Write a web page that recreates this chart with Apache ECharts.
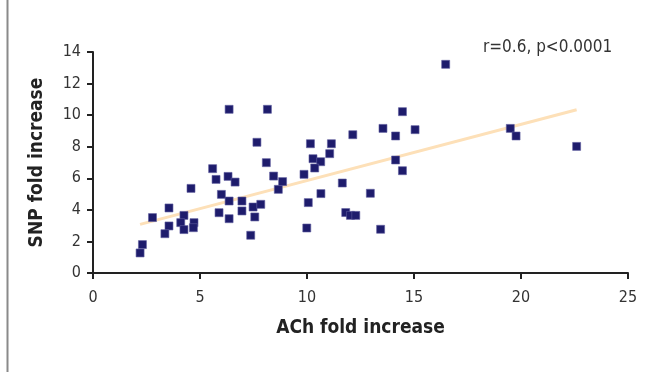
<!DOCTYPE html>
<html>
<head>
<meta charset="utf-8">
<script src="https://cdn.jsdelivr.net/npm/echarts@6/dist/echarts.min.js"></script>
<style>
  html, body { margin: 0; padding: 0; background: #fff; }
  #chart { width: 661px; height: 372px; }
</style>
</head>
<body>
<div id="chart"></div>
<script>
// ACh vs SNP fold increase
const achValues = [
  6.36, 8.15, 7.66, 8.10, 8.44, 8.66, 5.59, 5.75, 6.31, 6.64, 4.58, 6.00, 6.36, 6.96, 6.96,
  5.89, 6.36, 7.48, 7.84, 7.56, 7.37, 3.55, 2.78, 4.25, 4.10, 3.55, 4.25, 4.72, 4.69, 3.36,
  2.31, 2.20, 8.86, 10.16, 11.14, 11.06, 10.28, 10.64, 10.36, 9.86, 11.65, 10.65, 12.96, 10.06,
  11.81, 12.03, 12.28, 9.99, 13.44, 12.14, 13.55, 14.14, 14.46, 15.05, 14.14, 14.46, 16.48,
  19.50, 19.77, 22.60
]
const snpValues = [
  10.37, 10.37, 8.28, 6.99, 6.14, 5.30, 6.61, 5.93, 6.12, 5.76, 5.36, 4.98, 4.56, 4.56, 3.93,
  3.82, 3.44, 4.18, 4.35, 3.55, 2.39, 4.12, 3.51, 3.65, 3.19, 2.98, 2.75, 3.19, 2.87, 2.49,
  1.80, 1.27, 5.79, 8.19, 8.19, 7.56, 7.24, 7.05, 6.65, 6.25, 5.70, 5.03, 5.05, 4.46,
  3.83, 3.65, 3.65, 2.85, 2.77, 8.76, 9.16, 8.68, 10.22, 9.08, 7.16, 6.48, 13.22,
  9.16, 8.68, 8.02
]
// regression line end points
const trendX = [2.2, 22.6]
const trendY = [3.08, 10.34]

const xTicks = { min: 0, max: 25, step: 5 }
const yTicks = { min: 0, max: 14, step: 2 }

const font = '"Liberation Sans Narrow", "DejaVu Sans Condensed", sans-serif'

const chart = echarts.init(document.getElementById('chart'))
const option = {
  animation: false,
  grid: { left: 93, right: 33, top: 52, bottom: 99 },
  xAxis: {
    type: 'value',
    min: xTicks.min,
    max: xTicks.max,
    interval: xTicks.step,
    name: 'ACh fold increase',
    nameLocation: 'middle',
    nameGap: 46,
    nameTextStyle: { fontFamily: font, fontWeight: 'bold', fontSize: 19, color: '#222' },
    axisLine: { lineStyle: { color: '#222', width: 2 } },
    axisTick: { length: 6, lineStyle: { color: '#222', width: 2 } },
    axisLabel: { fontFamily: font, fontSize: 16, color: '#333', margin: 17 },
    splitLine: { show: false }
  },
  yAxis: {
    type: 'value',
    min: yTicks.min,
    max: yTicks.max,
    interval: yTicks.step,
    name: 'SNP fold increase',
    nameLocation: 'middle',
    nameRotate: 90,
    nameGap: 46,
    nameTextStyle: { fontFamily: font, fontWeight: 'bold', fontSize: 19, color: '#222' },
    axisLine: { show: true, lineStyle: { color: '#222', width: 2 } },
    axisTick: { show: true, length: 6, lineStyle: { color: '#222', width: 2 } },
    axisLabel: { fontFamily: font, fontSize: 16, color: '#333', margin: 12 },
    splitLine: { show: false }
  },
  graphic: [
    {
      type: 'line',
      shape: { x1: 7.5, y1: 0, x2: 7.5, y2: 372 },
      style: { stroke: '#8a8a8a', lineWidth: 2 }
    },
    {
      type: 'text',
      left: 483,
      top: 39,
      style: { text: 'r=0.6, p<0.0001', font: '17px ' + font, fill: '#333' }
    }
  ],
  series: [
    {
      type: 'line',
      data: trendX.map((x, i) => [x, trendY[i]]),
      showSymbol: false,
      lineStyle: { color: '#fde0b8', width: 3 },
      z: 1
    },
    {
      type: 'scatter',
      data: achValues.map((x, i) => [x, snpValues[i]]),
      symbol: 'rect',
      symbolSize: 8,
      itemStyle: { color: '#1e1c6c', borderColor: '#5e5c9e', borderWidth: 0.6, opacity: 1 },
      z: 3
    }
  ]
}
chart.setOption(option)
</script>
</body>
</html>
